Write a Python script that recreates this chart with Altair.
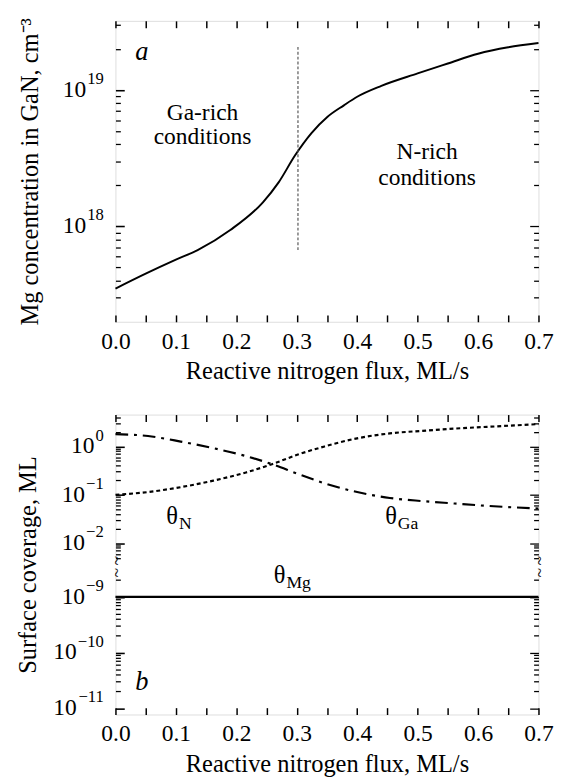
import altair as alt
import pandas as pd
import math

# ---------------- panel a : Mg concentration ----------------
flux_a = [0.0, 0.05, 0.1, 0.136, 0.19, 0.244, 0.27, 0.297, 0.324, 0.351, 0.378, 0.4, 0.44, 0.5, 0.55, 0.6, 0.65, 0.7]
mg_conc = [3.5e17, 4.5e17, 5.7e17, 6.7e17, 9.4e17, 1.5e18, 2.1e18, 3.3e18, 4.8e18, 6.35e18, 7.7e18, 8.9e18,
           1.07e19, 1.32e19, 1.56e19, 1.84e19, 2.05e19, 2.2e19]
boundary_flux = [0.302]
boundary_lo = [6.7e17]
boundary_hi = [2.1e19]

# ---------------- panel b : surface coverage ----------------
flux_b = [0.0, 0.054, 0.108, 0.162, 0.216, 0.259, 0.302, 0.346, 0.40, 0.454, 0.508, 0.561, 0.615, 0.7]
theta_n = [0.1, 0.114, 0.144, 0.196, 0.29, 0.43, 0.68, 1.0, 1.47, 1.86, 2.1, 2.34, 2.54, 2.9]
theta_ga = [1.8, 1.64, 1.26, 0.92, 0.63, 0.43, 0.27, 0.173, 0.114, 0.086, 0.074, 0.066, 0.059, 0.052]
flux_mg = [0.0, 0.7]
theta_mg = [1e-9, 1e-9]

x_ticks = [round(0.05 * i, 2) for i in range(15)]

FONT = "Liberation Serif"
BASE_FS = 24
EXP_FS = 17
LBL_PAD = 12

# broken-axis mapping for panel b (pixels from bottom of the plot area)
H_B = 307
UP_0, UP_K = 274.4, 49.5     # upper segment: t = UP_0 + UP_K*log10(v)
LO_0, LO_K = 120.4, 57.0     # lower segment: t = LO_0 + LO_K*(log10(v)+9)


def t_of(v):
    lv = math.log10(v)
    return UP_0 + UP_K * lv if lv > -5 else LO_0 + LO_K * (lv + 9)


T_EXPR = f"datum.lv > -5 ? {UP_0} + {UP_K}*datum.lv : {LO_0} + {LO_K}*(datum.lv + 9)"


def with_t(chart, field):
    return chart.transform_calculate(lv=f"log(datum.{field})/LN10").transform_calculate(tv=T_EXPR)


xs = alt.Scale(domain=[0, 0.7], nice=False, zero=False)
X_LABEL = "round(datum.value*100) % 10 == 0 ? format(datum.value, '.1f') : ''"

common_ax = dict(domain=False, grid=False, tickColor="black", labelColor="black", titleColor="black",
                 labelFont=FONT, titleFont=FONT, labelFontSize=24, titleFontWeight="normal")


def x_axis(orient, labels, title=None):
    kw = dict(common_ax)
    if labels:
        return alt.Axis(orient=orient, values=x_ticks, labelExpr=X_LABEL, title=title, offset=-7, tickSize=7,
                        tickWidth=1.5, labelPadding=8, titlePadding=6, titleFontSize=25, labelFlush=False,
                        labelOverlap=False, **kw)
    return alt.Axis(orient=orient, values=x_ticks, labels=False, title=None, offset=-7, tickSize=7,
                    tickWidth=1.5, **kw)


def y_axis(orient, values, size, title=None, title_pad=74, title_fs=25):
    kw = dict(common_ax)
    if title is not None:
        return alt.Axis(orient=orient, values=values, labels=False, title=title, offset=-size,
                        tickSize=size, tickWidth=1.6, titlePadding=title_pad, titleFontSize=title_fs, **kw)
    return alt.Axis(orient=orient, values=values, labels=False, title=None, offset=-size, tickSize=size,
                    tickWidth=1.3, **kw)


def power_labels(vals, exps, field, yscale):
    """Tick labels of the form 10^e, drawn as text next to the left axis."""
    layers = []
    for val, e in zip(vals, exps):
        es = str(e).replace("-", "\u2212")
        w = EXP_FS * sum(0.564 if c == "\u2212" else 0.5 for c in es)
        df = pd.DataFrame({"flux": [0.0], field: [val], "b": ["10"], "e": [es]})
        enc = dict(x=alt.X("flux:Q", scale=xs, axis=None), y=alt.Y(f"{field}:Q", scale=yscale, axis=None))
        layers.append(alt.Chart(df).mark_text(font=FONT, fontSize=BASE_FS, color="black", align="right",
                                              baseline="middle", dx=-(LBL_PAD + w + 1)).encode(text="b:N", **enc))
        layers.append(alt.Chart(df).mark_text(font=FONT, fontSize=EXP_FS, color="black", align="right",
                                              baseline="middle", dx=-LBL_PAD, dy=-11).encode(text="e:N", **enc))
    return layers


ghost = dict(opacity=0, color="black")

# ================= panel a =================
df_a = pd.DataFrame({"flux": flux_a, "conc": mg_conc})
ys_a = alt.Scale(type="log", domain=[2e17, 3.2e19], nice=False)
a_major_exp = [18, 19]
a_major = [10.0 ** e for e in a_major_exp]
a_minor = [k * 10.0 ** e for e in (17, 18, 19) for k in range(2, 10) if 2.5e17 <= k * 10.0 ** e <= 3.2e19]

base_a = alt.Chart(df_a)
curve_a = base_a.mark_line(color="black", strokeWidth=2, interpolate="monotone").encode(
    x=alt.X("flux:Q", scale=xs, axis=x_axis("bottom", True, "Reactive nitrogen flux, ML/s")),
    y=alt.Y("conc:Q", scale=ys_a, axis=y_axis("left", a_major, 9,
                                              "Mg concentration in GaN, cm\u207b\u00b3", 74, 25)),
)
ax_a2 = base_a.mark_line(**ghost).encode(
    x=alt.X("flux:Q", scale=xs, axis=x_axis("top", False)),
    y=alt.Y("conc:Q", scale=ys_a, axis=y_axis("left", a_minor, 5)),
)
ax_a3 = base_a.mark_line(**ghost).encode(
    x=alt.X("flux:Q", scale=xs, axis=None),
    y=alt.Y("conc:Q", scale=ys_a, axis=y_axis("right", a_major, 9)),
)
ax_a4 = base_a.mark_line(**ghost).encode(
    x=alt.X("flux:Q", scale=xs, axis=None),
    y=alt.Y("conc:Q", scale=ys_a, axis=y_axis("right", a_minor, 5)),
)
rule_a = alt.Chart(pd.DataFrame({"flux": boundary_flux, "lo": boundary_lo, "hi": boundary_hi})).mark_rule(
    color="#555555", strokeWidth=1.2, strokeDash=[3, 2]).encode(
    x=alt.X("flux:Q", scale=xs, axis=None),
    y=alt.Y("lo:Q", scale=ys_a, axis=None),
    y2="hi:Q",
)
txt_a = pd.DataFrame({
    "flux": [0.144, 0.144, 0.5157, 0.5157],
    "conc": [6.7e18, 4.5e18, 3.5e18, 2.25e18],
    "label": ["Ga-rich", "conditions", "N-rich", "conditions"],
})
labels_a = alt.Chart(txt_a).mark_text(font=FONT, fontSize=24, color="black", align="center",
                                      baseline="middle").encode(
    x=alt.X("flux:Q", scale=xs, axis=None),
    y=alt.Y("conc:Q", scale=ys_a, axis=None),
    text="label:N",
)
tag_a = alt.Chart(pd.DataFrame({"flux": [0.0436], "conc": [1.9e19], "label": ["a"]})).mark_text(
    font=FONT, fontSize=27, fontStyle="italic", color="black", align="center", baseline="middle").encode(
    x=alt.X("flux:Q", scale=xs, axis=None),
    y=alt.Y("conc:Q", scale=ys_a, axis=None),
    text="label:N",
)
panel_a = alt.layer(curve_a, ax_a2, ax_a3, ax_a4, rule_a, labels_a, tag_a,
                    *power_labels(a_major, a_major_exp, "conc", ys_a)).resolve_axis(
    x="independent", y="independent").properties(width=433, height=308)

# ================= panel b =================
ys_b = alt.Scale(domain=[0, H_B], nice=False, zero=False)
b_major_exp = [0, -1, -2, -9, -10, -11]
b_major = [t_of(10.0 ** e) for e in b_major_exp]
b_minor = []
for e in (-3, -2, -1, 0):
    for k in range(2, 10):
        t = t_of(k * 10.0 ** e)
        if 158 < t < H_B - 1:
            b_minor.append(round(t, 2))
for e in (-11, -10, -9):
    for k in range(2, 10):
        t = t_of(k * 10.0 ** e)
        if 1 < t < 141.7:
            b_minor.append(round(t, 2))

df_n = pd.DataFrame({"flux": flux_b, "v": theta_n})
df_ga = pd.DataFrame({"flux": flux_b, "v": theta_ga})
df_mg = pd.DataFrame({"flux": flux_mg, "v": theta_mg})


def yb(ax):
    return alt.Y("tv:Q", scale=ys_b, axis=ax)


line_n = with_t(alt.Chart(df_n), "v").mark_line(color="black", strokeWidth=2.2, strokeDash=[4, 3],
                                                 interpolate="monotone").encode(
    x=alt.X("flux:Q", scale=xs, axis=x_axis("bottom", True, "Reactive nitrogen flux, ML/s")),
    y=yb(y_axis("left", b_major, 9, "Surface coverage, ML", 76, 25)),
)
line_ga = with_t(alt.Chart(df_ga), "v").mark_line(color="black", strokeWidth=2.2, strokeDash=[13, 6, 3, 6],
                                                   interpolate="monotone").encode(
    x=alt.X("flux:Q", scale=xs, axis=x_axis("top", False)),
    y=yb(y_axis("left", b_minor, 5)),
)
line_mg = with_t(alt.Chart(df_mg), "v").mark_line(color="black", strokeWidth=2.2).encode(
    x=alt.X("flux:Q", scale=xs, axis=None),
    y=yb(y_axis("right", b_major, 9)),
)
ax_b4 = with_t(alt.Chart(df_n), "v").mark_line(**ghost).encode(
    x=alt.X("flux:Q", scale=xs, axis=None),
    y=yb(y_axis("right", b_minor, 5)),
)

# axis-break decoration (in plot pixels from the bottom)
brk = pd.DataFrame({"flux": [0.0, 0.7], "lo": [147.5, 147.5], "hi": [155.0, 155.0]})
mask_b = alt.Chart(brk).mark_rule(color="white", strokeWidth=5).encode(
    x=alt.X("flux:Q", scale=xs, axis=None), y=yb(None), y2="hi:Q").transform_calculate(tv="datum.lo")
tilde_df = pd.DataFrame({"flux": [0.0, 0.0, 0.7, 0.7], "tv": [157.5, 145.0, 157.5, 145.0], "s": ["~"] * 4})
tilde_b = alt.Chart(tilde_df).mark_text(font=FONT, fontSize=18, angle=90, color="black", align="center",
                                        baseline="middle").encode(
    x=alt.X("flux:Q", scale=xs, axis=None), y=yb(None), text="s:N")

theta_df = pd.DataFrame({
    "flux": [0.0938, 0.456, 0.2716],
    "v": [0.0356, 0.0356, 2.45e-9],
    "sym": ["θ", "θ", "θ"],
    "sub": ["N", "Ga", "Mg"],
})
theta_sym = with_t(alt.Chart(theta_df), "v").mark_text(font=FONT, fontSize=25, color="black", align="center",
                                                       baseline="middle").encode(
    x=alt.X("flux:Q", scale=xs, axis=None), y=yb(None), text="sym:N")
theta_sub = with_t(alt.Chart(theta_df), "v").mark_text(font=FONT, fontSize=18, color="black", align="left",
                                                       baseline="middle", dx=7, dy=8).encode(
    x=alt.X("flux:Q", scale=xs, axis=None), y=yb(None), text="sub:N")
tag_b = with_t(alt.Chart(pd.DataFrame({"flux": [0.0436], "v": [2.9e-11], "label": ["b"]})), "v").mark_text(
    font=FONT, fontSize=27, fontStyle="italic", color="black", align="center", baseline="middle").encode(
    x=alt.X("flux:Q", scale=xs, axis=None), y=yb(None), text="label:N")

panel_b = alt.layer(line_n, line_ga, line_mg, ax_b4, mask_b, tilde_b, theta_sym, theta_sub, tag_b,
                    *power_labels(b_major, b_major_exp, "tv", ys_b)).resolve_axis(
    x="independent", y="independent").properties(width=433, height=H_B)

chart = alt.vconcat(panel_a, panel_b, spacing=29).properties(
    padding={"left": 7, "top": 0, "right": 5, "bottom": 0}
).configure_view(stroke="black", strokeWidth=2).configure(background="white")

chart.save("out.html", embed_options={"renderer": "svg", "actions": False})
